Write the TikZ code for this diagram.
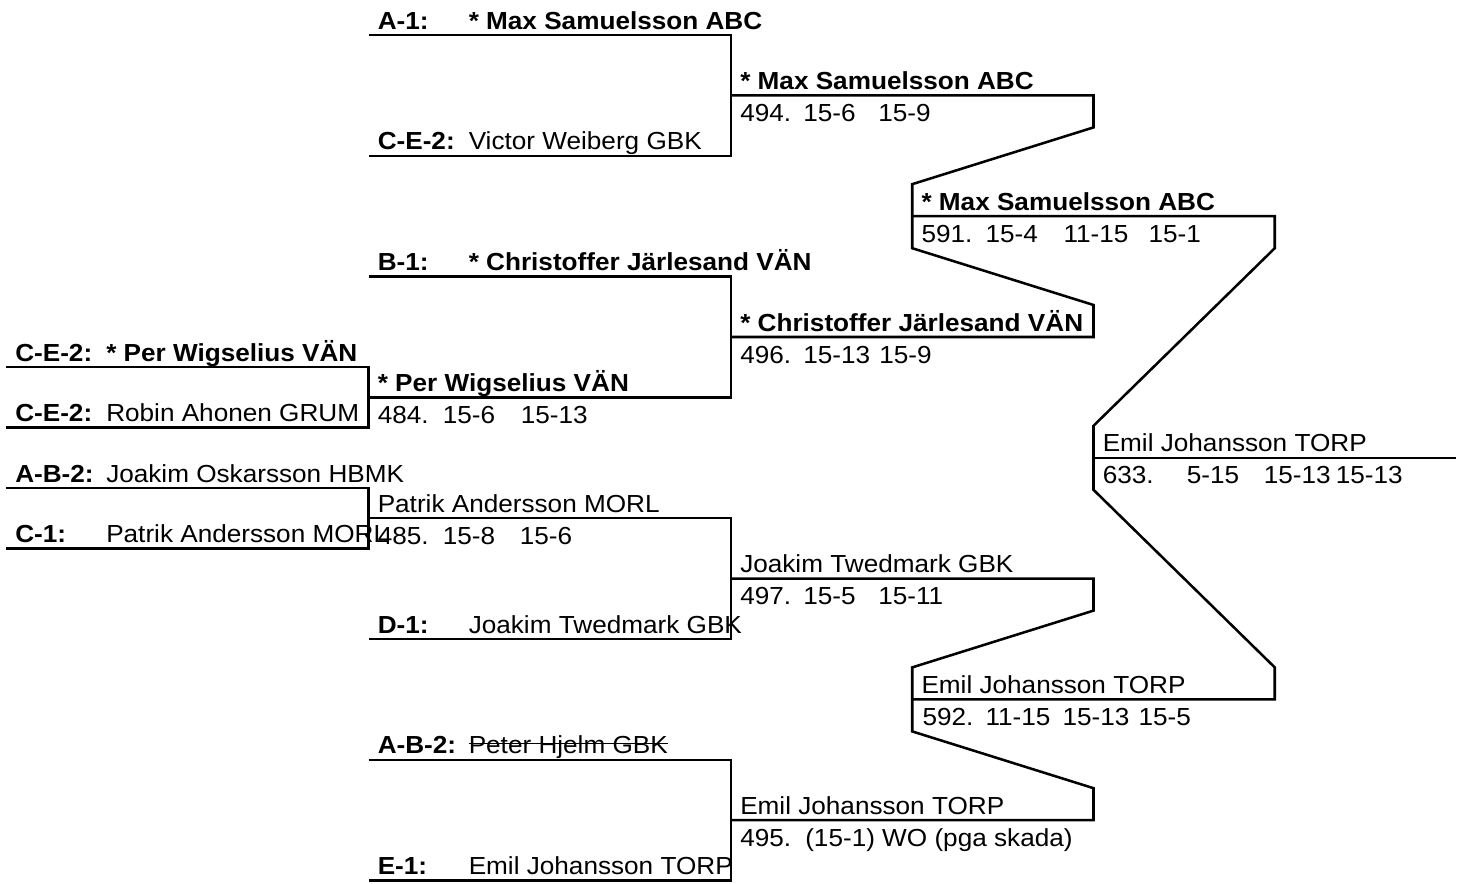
\documentclass[tikz,border=0pt]{standalone}
\usepackage{fontspec}
\setmainfont{Liberation Sans}[FakeStretch=1.06]
\tikzset{
 brk/.style={line width=1.9pt},
 plr/.style={anchor=base west, inner sep=0pt, xshift=6.75pt, yshift=4.5pt},
 who/.style={anchor=base west, inner sep=0pt, xshift=75pt, yshift=4.5pt},
 res/.style={anchor=base west, inner sep=0pt, yshift=-19.5pt},
}
\begin{document}
\begin{tikzpicture}[x=135.9375pt, y=-45.3pt, font=\fontsize{18.5}{22}\selectfont]
 \useasboundingbox (-0.0331,-0.5795) rectangle (8.0552,14.056);
 % bracket lines
 \draw[brk](0,5.5)--(2,5.5)--(2,6.5)--(0,6.5);
 \draw[brk](0,7.5)--(2,7.5)--(2,8.5)--(0,8.5);
 \foreach \y in {0,4,8,12}
 \draw[brk](2,\y)--(4,\y)--(4,\y+2)--(2,\y+2);
 \draw[brk](4,1)--(6,1)--(6,1.53)--(5,2.47)--(5,3.53)--(6,4.47)--(6,5)--(4,5);
 \draw[brk](4,9)--(6,9)--(6,9.53)--(5,10.47)--(5,11.53)--(6,12.47)--(6,13)--(4,13);
 \draw[brk](5,3)--(7,3)--(7,3.53)--(6,6.47)--(6,7.53)--(7,10.47)--(7,11)--(5,11);
 \draw[brk](6,7)--(8,7);
 % entries
 \node[plr](a1) at (0,5.5){\bfseries C-E-2:};
 \node[who](n1) at (0,5.5){\bfseries * Per Wigselius VÄN};
 \node[plr](a2) at (0,6.5){\bfseries C-E-2:};
 \node[who](n2) at (0,6.5){Robin Ahonen GRUM};
 \node[plr](a3) at (0,7.5){\bfseries A-B-2:};
 \node[who](n3) at (0,7.5){Joakim Oskarsson HBMK};
 \node[plr](a4) at (0,8.5){\bfseries C-1:};
 \node[who](n4) at (0,8.5){Patrik Andersson MORL};
 \node[plr](b1) at (2,0){\bfseries A-1:};
 \node[who](m1) at (2,0){\bfseries * Max Samuelsson ABC};
 \node[plr](b2) at (2,2){\bfseries C-E-2:};
 \node[who](m2) at (2,2){Victor Weiberg GBK};
 \node[plr](b3) at (2,4){\bfseries B-1:};
 \node[who](m3) at (2,4){\bfseries * Christoffer Järlesand VÄN};
 \node[plr](b4) at (2,10){\bfseries D-1:};
 \node[who](m4) at (2,10){Joakim Twedmark GBK};
 \node[plr](b5) at (2,12){\bfseries A-B-2:};
 \node[who](m5) at (2,12){Peter Hjelm GBK};
 \draw[line width=1pt]([yshift=7.5pt]m5.base west)--([yshift=7.5pt]m5.base east);
 \node[plr](b6) at (2,14){\bfseries E-1:};
 \node[who](m6) at (2,14){Emil Johansson TORP};
 % winners
 \node[plr](w484) at (2,6){\bfseries * Per Wigselius VÄN};
 \node[plr](w485) at (2,8){Patrik Andersson MORL};
 \node[plr](w494) at (4,1){\bfseries * Max Samuelsson ABC};
 \node[plr](w496) at (4,5){\bfseries * Christoffer Järlesand VÄN};
 \node[plr](w497) at (4,9){Joakim Twedmark GBK};
 \node[plr](w495) at (4,13){Emil Johansson TORP};
 \node[plr](w591) at (5,3){\bfseries * Max Samuelsson ABC};
 \node[plr](w592) at (5,11){Emil Johansson TORP};
 \node[plr](w633) at (6,7){Emil Johansson TORP};
 % results
 \foreach \x/\y/\s/\m [count=\i] in {2/6/6.75/484., 2/6/55.5/15-6, 2/6/114/15-13,
 2/8/6.75/485., 2/8/55.5/15-8, 2/8/113.25/15-6,
 4/1/6.75/494., 4/1/54/15-6, 4/1/110.25/15-9,
 4/5/6.75/496., 4/5/54/15-13, 4/5/111/15-9,
 4/9/6.75/497., 4/9/54/15-5, 4/9/110.25/15-11,
 4/13/6.75/495., 4/13/55.5/(15-1) WO (pga skada),
 5/3/6.75/591., 5/3/54.75/15-4, 5/3/113.25/11-15, 5/3/177/15-1,
 5/11/7.5/592., 5/11/54.75/11-15, 5/11/112.5/15-13, 5/11/169.5/15-5,
 6/7/6.75/633., 6/7/69.75/5-15, 6/7/127.5/15-13, 6/7/181.5/15-13}
 \node[res,xshift=\s pt](r\i) at (\x,\y){\m};
\end{tikzpicture}
\end{document}
